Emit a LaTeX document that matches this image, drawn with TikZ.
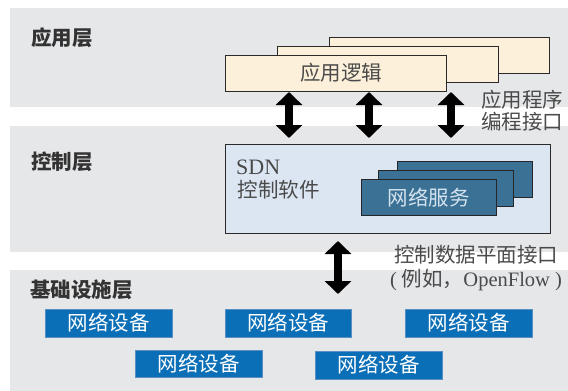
\documentclass[tikz,border=0pt]{standalone}
\usepackage{fontspec}
\setmainfont{Liberation Serif}
\newfontfamily\cjk{Noto Sans CJK SC}
\usetikzlibrary{arrows.meta}
\definecolor{bandgray}{HTML}{E6E7E9}
\definecolor{appfill}{HTML}{FDF0DA}
\definecolor{sdnfill}{HTML}{DCE6F2}
\definecolor{netfill}{HTML}{3A7195}
\definecolor{devfill}{HTML}{0B6FB7}
\definecolor{devedge}{HTML}{5A8FC4}
\definecolor{boxedge}{HTML}{2A2A2A}
\definecolor{labelgray}{HTML}{4A4A4A}
\definecolor{titlegray}{HTML}{333333}
\definecolor{nettext}{HTML}{D5E3EE}
\begin{document}
\begin{tikzpicture}[x=1pt,y=-1pt,
  txt/.style={font=\cjk\fontsize{20.5}{23}\selectfont, inner sep=0pt},
  title/.style={font=\cjk\bfseries\fontsize{20.5}{23}\selectfont, text=titlegray, inner sep=0pt, anchor=west},
  appbox/.style={draw=boxedge, line width=0.8pt, fill=appfill, inner sep=0pt, minimum width=221pt, minimum height=36pt, txt, text=labelgray},
  sdnbox/.style={draw=boxedge, line width=0.8pt, fill=sdnfill, inner sep=0pt},
  netbox/.style={draw=black!85, line width=0.9pt, fill=netfill, inner sep=0pt, minimum width=135pt, minimum height=36pt, txt, text=nettext},
  devbox/.style={draw=devedge, line width=0.5pt, fill=devfill, inner sep=0pt, minimum width=127pt, minimum height=28pt, txt, text=white},
  bigarrow/.style={line width=8pt, {Triangle[width=26pt,length=13pt]}-{Triangle[width=26pt,length=13pt]}}
]
\useasboundingbox (0,0) rectangle (568,391);
% layer bands
\fill[bandgray] (10,8) rectangle (568,107);
\fill[bandgray] (10,126) rectangle (568,252);
\fill[bandgray] (10,270) rectangle (568,391);
% titles
\node[title] (tapp) at (31,38) {应用层};
\node[title] (tctl) at (31,162) {控制层};
\node[title] (tinf) at (30,290) {基础设施层};
% application logic boxes
\node[appbox, minimum width=220pt] (app3) at (439,55) {};
\node[appbox] (app2) at (387.5,64) {};
\node[appbox] (app1) at (335.5,73) {};
\node[txt, text=labelgray] (applbl) at (341,73) {应用逻辑};
% API label
\node[txt, text=labelgray, align=left, anchor=west, font=\cjk\fontsize{20.5}{22}\selectfont] (api) at (481,111) {应用程序\\编程接口};
% SDN box
\node[sdnbox, minimum width=325pt, minimum height=89pt] (sdn) at (387.5,188.5) {};
\node[inner sep=0pt, anchor=west, text=labelgray, font=\fontsize{22}{23}\selectfont] (sdnlbl) at (236,167) {SDN};
\node[txt, text=labelgray] (ctlsw) at (278.5,190) {控制软件};
% network services
\node[netbox] (net3) at (464.5,179.5) {};
\node[netbox] (net2) at (445.5,188.5) {};
\node[netbox] (net1) at (428.5,197.5) {网络服务};
% south-bound label
\node[txt, text=labelgray] (sbi1) at (476,255) {控制数据平面接口};
\node[txt, text=labelgray] (sbi2) at (476,280) {{\rmfamily(}\hspace{5pt}例如，{\rmfamily OpenFlow\hspace{5pt})}};
% devices
\node[devbox] (d1) at (108.5,323) {网络设备};
\node[devbox, minimum width=126pt] (d2) at (288,323) {网络设备};
\node[devbox] (d3) at (468.5,323) {网络设备};
\node[devbox, minimum height=27pt] (d4) at (198.5,363.5) {网络设备};
\node[devbox] (d5) at (378.5,365) {网络设备};
% arrows
\coordinate (a1t) at (289,92);  \coordinate (a1b) at (289,138);
\coordinate (a2t) at (369,92);  \coordinate (a2b) at (369,138);
\coordinate (a3t) at (451,92);  \coordinate (a3b) at (451,138);
\coordinate (a4t) at (338,241); \coordinate (a4b) at (338,294);
\draw[bigarrow] (a1t) -- (a1b);
\draw[bigarrow] (a2t) -- (a2b);
\draw[bigarrow] (a3t) -- (a3b);
\draw[bigarrow] (a4t) -- (a4b);
\end{tikzpicture}
\end{document}
